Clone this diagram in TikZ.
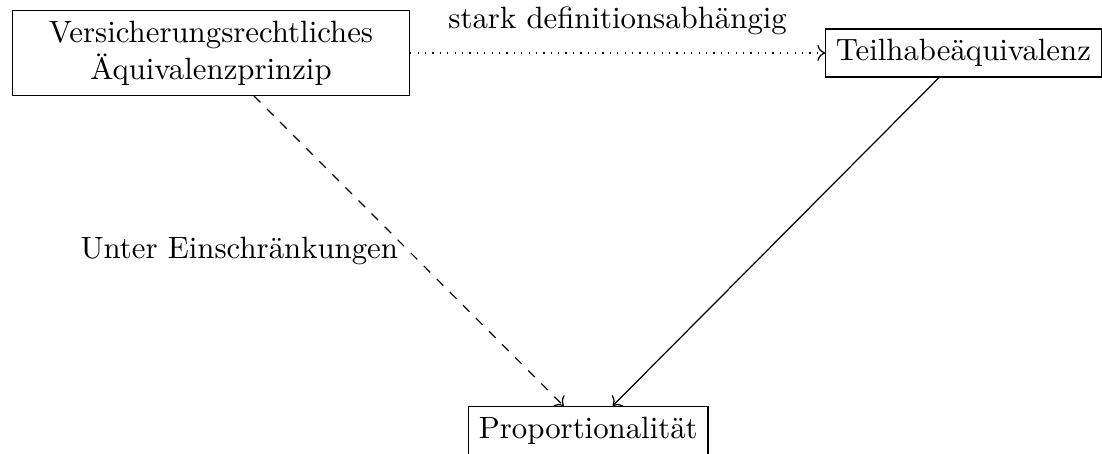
\documentclass[tikz,border=0pt]{standalone}
\usepackage{amsmath,amssymb}
\usetikzlibrary{cd}

\tikzset{
  begriff/.style={draw, inner sep=3.33pt},
  pfeil/.style={-{cm to}}
}

\begin{document}
\begin{tikzpicture}[x=1pt,y=1pt]
\useasboundingbox (0,0) rectangle (357.8,-147.1);
\node[begriff, align=center, minimum width=129pt] (vers) at (68.5,-17.2) {Versicherungsrechtliches\\ \"Aquivalenzprinzip};
\node[begriff] (teil) at (312.8,-17.2) {Teilhabe\"aquivalenz};
\node[begriff, anchor=north] (prop) at (191,-131.8) {Proportionalit\"at};
\draw[pfeil, dotted] (vers) -- node[above=2.5pt] {stark definitionsabh\"angig} (teil);
\draw[pfeil, dashed] (vers) -- node[left] {Unter Einschr\"ankungen} (prop);
\draw[pfeil] (teil) -- (prop);
\end{tikzpicture}
\end{document}
